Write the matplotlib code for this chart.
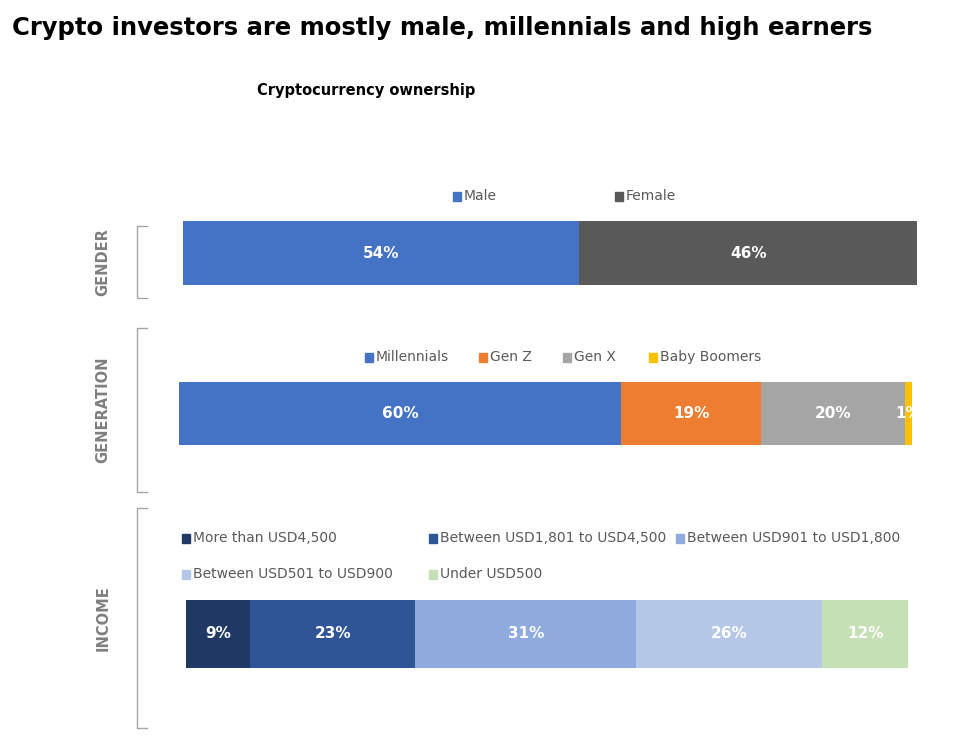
import matplotlib.pyplot as plt
from matplotlib.patches import Rectangle

plt.rcParams['font.family'] = ['DejaVu Sans']

# data
gender_labels = ['Male', 'Female']
gender_values = [54.0, 46.0]

generation_labels = ['Millennials', 'Gen Z', 'Gen X', 'Baby Boomers']
generation_values = [60.3, 19.1, 19.6, 1.0]

income_labels = ['More than USD4,500', 'Between USD1,801 to USD4,500',
                 'Between USD901 to USD1,800', 'Between USD501 to USD900',
                 'Under USD500']
income_values = [8.9, 22.9, 30.6, 25.8, 11.9]

gender_colors = ['#4472C4', '#595959']
generation_colors = ['#4472C4', '#ED7D31', '#A5A5A5', '#FFC000']
income_colors = ['#203864', '#2F5597', '#8FAADC', '#B4C7E7', '#C5E0B4']

W, H = 971, 737
fig = plt.figure(figsize=(W / 100, H / 100), dpi=100)


def px(x, y):
    # pixel coords (top-left origin) -> figure fraction
    return x / W, 1 - y / H


def stacked_bar(x0, x1, y0, y1, values, colors):
    ax = fig.add_axes([x0 / W, 1 - y1 / H, (x1 - x0) / W, (y1 - y0) / H])
    left = 0
    for v, c in zip(values, colors):
        ax.barh(0, v, left=left, height=1, color=c, edgecolor='none')
        ax.text(left + v / 2, 0, f'{v:.0f}%', ha='center', va='center',
                color='white', fontsize=11, fontweight='bold')
        left += v
    ax.set_xlim(0, sum(values))
    ax.set_ylim(-0.5, 0.5)
    ax.axis('off')
    return ax


def legend_row(items, colors, xs, y):
    for lab, c, x in zip(items, colors, xs):
        fx, fy = px(x, y)
        fig.patches.append(Rectangle((fx - 4 / W, fy - 4.5 / H), 8 / W, 9 / H,
                                     transform=fig.transFigure, color=c))
        fig.text(fx + 7 / W, fy, lab, ha='left', va='center',
                 fontsize=10, color='#595959')


def bracket(x, y0, y1, label, label_x=103):
    fx0, fy0 = px(x, y0)
    fx1, fy1 = px(x + 10, y1)
    fig.lines.append(plt.Line2D([fx1, fx0, fx0, fx1], [fy0, fy0, fy1, fy1],
                                transform=fig.transFigure, color='#A6A6A6', lw=1))
    lx, ly = px(label_x, (y0 + y1) / 2)
    fig.text(lx, ly, label, rotation=90, ha='center', va='center',
             fontsize=10.5, fontweight='bold', color='#7F7F7F')


fig.text(12 / W, 1 - 28 / H, 'Crypto investors are mostly male, millennials and high earners',
         ha='left', va='center', fontsize=17.5, fontweight='bold', color='black')
fig.text(366 / W, 1 - 90 / H, 'Cryptocurrency ownership', ha='center', va='center',
         fontsize=10.5, fontweight='bold', color='black')

# gender
legend_row(gender_labels, gender_colors, [457, 619], 196)
stacked_bar(183, 917, 221, 285, gender_values, gender_colors)
bracket(137, 226, 298, 'GENDER')

# generation
legend_row(generation_labels, generation_colors, [369, 483, 567, 653], 357)
stacked_bar(179, 912, 382, 445, generation_values, generation_colors)
bracket(137, 328, 492, 'GENERATION')

# income
legend_row(income_labels[:3], income_colors[:3], [186, 433, 680], 538)
legend_row(income_labels[3:], income_colors[3:], [186, 433], 574)
stacked_bar(186, 908, 600, 668, income_values, income_colors)
bracket(137, 508, 728, 'INCOME')

fig.savefig('out.png', dpi=100)
